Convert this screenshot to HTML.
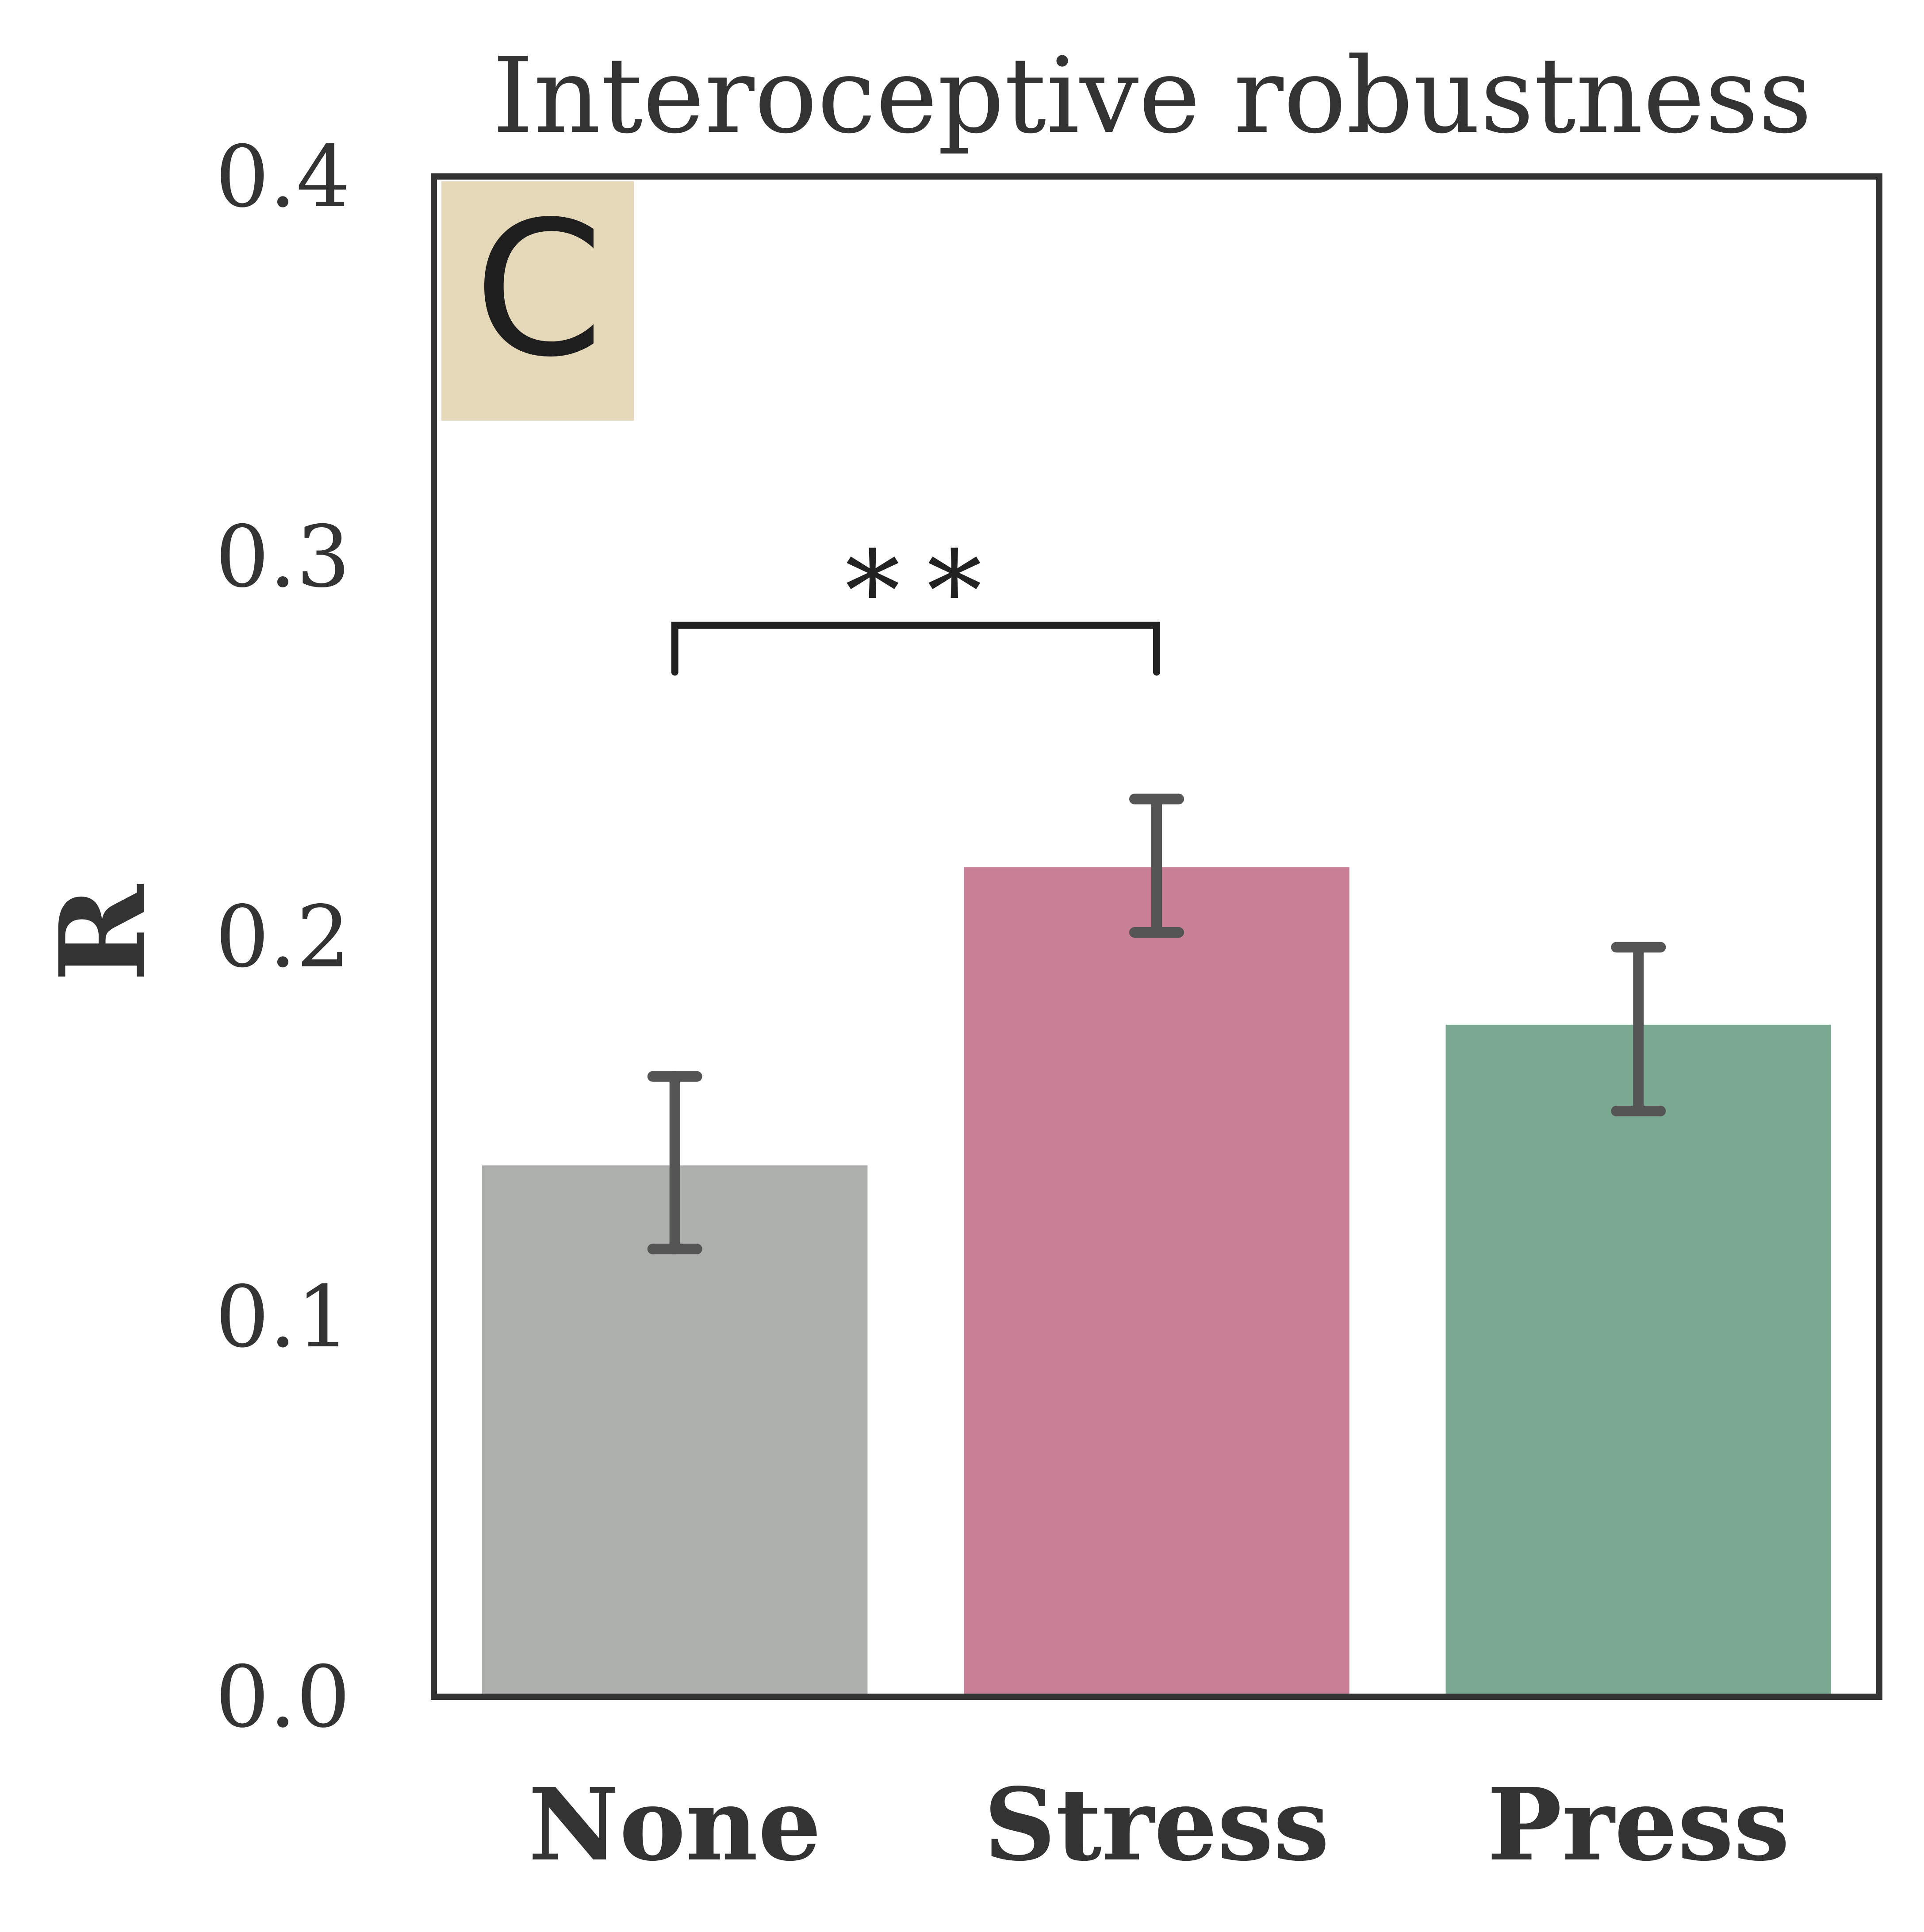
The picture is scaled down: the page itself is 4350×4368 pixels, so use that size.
<!DOCTYPE html>
<html><head><meta charset="utf-8"><style>
html,body{margin:0;padding:0;background:#fff;}
svg{display:block;}
</style></head><body>
<svg id="chart" width="4350" height="4368" viewBox="0 0 4350 4368" xmlns="http://www.w3.org/2000/svg">
<rect x="0" y="0" width="4350" height="4368" fill="#fff"/>
<g id="bars"></g>
<g id="errs"></g>
<g id="yticks"></g>
<g id="xticks"></g>
<rect x="998" y="410" width="435" height="541" fill="#e5d8b9"/>
<text x="1218" y="800" font-family="DejaVu Sans, Liberation Sans, sans-serif" font-size="420" fill="#1e1e1e" text-anchor="middle">C</text>
<text x="2605" y="298" font-family="DejaVu Serif, Liberation Serif, serif" font-size="236" fill="#333" text-anchor="middle">Interoceptive robustness</text>
<text transform="translate(325,2110) rotate(-90)" font-family="DejaVu Serif, Liberation Serif, serif" font-size="265" font-weight="bold" fill="#333" text-anchor="middle">R</text>
<g id="sig"></g>
<rect x="981" y="399" width="3268" height="3437" fill="none" stroke="#333" stroke-width="14"/>
</svg>
<script>
const categories = ["None","Stress","Press"];
const values = [0.1398,0.2183,0.1768];
const errLow = [0.1178,0.2011,0.1541];
const errHigh = [0.1632,0.2362,0.1972];
const colors = ["#adafac","#c88096","#7ba892"];
const yTicks = [0.0,0.1,0.2,0.3,0.4];
const yTickLabels = ["0.0","0.1","0.2","0.3","0.4"];
const sigPair = [0,1];
const sigY = 0.2819;
const sigTickY = 0.2696;
const sigLabel = "**";

const NS="http://www.w3.org/2000/svg";
const L=981,R=4249,T=399,B=3836;
function y(v){return B-(v/0.4)*(B-T);}
function x(i){return L+(i+0.5)*(R-L)/3;}
const band=(R-L)/3, bw=band*0.8;
function mk(tag,attrs,parent){const e=document.createElementNS(NS,tag);for(const k in attrs)e.setAttribute(k,attrs[k]);parent.appendChild(e);return e;}
const gb=document.getElementById('bars'),ge=document.getElementById('errs'),gy=document.getElementById('yticks'),gx=document.getElementById('xticks'),gs=document.getElementById('sig');
categories.forEach((c,i)=>{
  const r=mk('rect',{x:x(i)-bw/2,y:y(values[i]),width:bw,height:B-y(values[i]),fill:colors[i]},gb);
  
  
  const g=mk('g',{stroke:'#555','stroke-width':24,'stroke-linecap':'round'},ge);
  
  
  mk('line',{x1:x(i),x2:x(i),y1:y(errLow[i]),y2:y(errHigh[i])},g);
  mk('line',{x1:x(i)-50,x2:x(i)+50,y1:y(errLow[i]),y2:y(errLow[i])},g);
  mk('line',{x1:x(i)-50,x2:x(i)+50,y1:y(errHigh[i]),y2:y(errHigh[i])},g);
  const t=mk('text',{x:x(i),y:4204,'font-family':'DejaVu Serif, Liberation Serif, serif','font-size':225,'font-weight':'bold',fill:'#333','text-anchor':'middle'},gx);
  t.textContent=c;
  
  
});
yTicks.forEach((v,i)=>{
  const t=mk('text',{x:792,y:y(v)+67,'font-family':'DejaVu Serif, Liberation Serif, serif','font-size':192,fill:'#333','text-anchor':'end'},gy);
  t.textContent=yTickLabels[i];
  
  
});
const x1=x(sigPair[0]),x2=x(sigPair[1]);
const p=mk('path',{d:`M${x1},${y(sigTickY)} L${x1},${y(sigY)} L${x2},${y(sigY)} L${x2},${y(sigTickY)}`,fill:'none',stroke:'#222','stroke-width':16,'stroke-linecap':'round'},gs);


const st=mk('text',{x:(x1+x2)/2+25,y:y(sigY)+10,'font-family':'DejaVu Serif, Liberation Serif, serif','font-size':250,fill:'#222','text-anchor':'middle','letter-spacing':60},gs);
st.textContent=sigLabel;


</script>
</body></html>
